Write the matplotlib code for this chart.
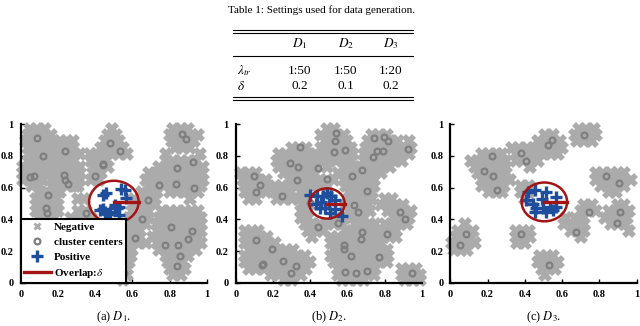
import matplotlib.pyplot as plt
from matplotlib.patches import Ellipse
from matplotlib.lines import Line2D

plt.rcParams["font.family"] = "Liberation Serif"
plt.rcParams["mathtext.fontset"] = "stix"

# ---- table data ----
table_cols = ["$D_1$", "$D_2$", "$D_3$"]
table_rows = ["$\\lambda_{tr}$", "$\\delta$"]
lambda_tr = ["1:50", "1:50", "1:20"]
delta = ["0.2", "0.1", "0.2"]

# ---- panel (a) D1 ----
centers1 = [(0.09, 0.91), (0.12, 0.80), (0.24, 0.83), (0.05, 0.665), (0.07, 0.67),
            (0.23, 0.68), (0.24, 0.645), (0.255, 0.62), (0.145, 0.555), (0.135, 0.47),
            (0.14, 0.44), (0.32, 0.38), (0.335, 0.38), (0.35, 0.44), (0.40, 0.67),
            (0.444, 0.75), (0.444, 0.74), (0.48, 0.88), (0.534, 0.828), (0.866, 0.935),
            (0.889, 0.905), (0.839, 0.726), (0.925, 0.758), (0.745, 0.618), (0.833, 0.622),
            (0.928, 0.60), (0.683, 0.525), (0.65, 0.405), (0.615, 0.285), (0.557, 0.065),
            (0.806, 0.352), (0.922, 0.328), (0.90, 0.276), (0.772, 0.238), (0.847, 0.238),
            (0.856, 0.172), (0.838, 0.104)]
pos1 = [(0.459, 0.566), (0.444, 0.552), (0.538, 0.594), (0.561, 0.583), (0.566, 0.537),
        (0.427, 0.457), (0.444, 0.463), (0.471, 0.436), (0.48, 0.446), (0.507, 0.488),
        (0.53, 0.478), (0.525, 0.425), (0.455, 0.445), (0.515, 0.47)]
neg1_rows = [
    (0.97, [0.05, 0.09, 0.13, 0.49, 0.82, 0.86, 0.90]),
    (0.93, [0.04, 0.08, 0.12, 0.16, 0.47, 0.51, 0.80, 0.84, 0.88, 0.92, 0.95]),
    (0.89, [0.03, 0.07, 0.11, 0.15, 0.18, 0.21, 0.25, 0.28, 0.45, 0.49, 0.53, 0.81, 0.85, 0.89, 0.93]),
    (0.85, [0.04, 0.08, 0.12, 0.16, 0.20, 0.24, 0.28, 0.43, 0.47, 0.51, 0.55, 0.83, 0.87, 0.91]),
    (0.81, [0.05, 0.09, 0.13, 0.17, 0.21, 0.25, 0.29, 0.32, 0.37, 0.41, 0.45, 0.49, 0.53, 0.57, 0.78, 0.96]),
    (0.77, [0.04, 0.08, 0.12, 0.16, 0.20, 0.24, 0.28, 0.38, 0.42, 0.46, 0.78, 0.82, 0.86, 0.90, 0.94]),
    (0.73, [0.01, 0.05, 0.09, 0.13, 0.17, 0.21, 0.25, 0.29, 0.32, 0.39, 0.43, 0.47, 0.74, 0.78, 0.82, 0.86,
            0.90, 0.94, 0.98]),
    (0.69, [0.01, 0.04, 0.08, 0.12, 0.16, 0.20, 0.24, 0.28, 0.32, 0.39, 0.43, 0.69, 0.73, 0.77, 0.81, 0.85,
            0.89, 0.93, 0.97]),
    (0.65, [0.01, 0.05, 0.09, 0.12, 0.17, 0.21, 0.25, 0.29, 0.32, 0.38, 0.42, 0.67, 0.71, 0.75, 0.79, 0.83,
            0.87, 0.91, 0.95, 0.98]),
    (0.61, [0.06, 0.10, 0.17, 0.21, 0.25, 0.29, 0.31, 0.69, 0.73, 0.77, 0.81, 0.85, 0.89, 0.93, 0.97]),
    (0.57, [0.10, 0.14, 0.18, 0.21, 0.65, 0.69, 0.73, 0.80, 0.84, 0.88, 0.92, 0.95]),
    (0.53, [0.08, 0.12, 0.16, 0.19, 0.31, 0.34, 0.61, 0.65, 0.69, 0.72, 0.91]),
    (0.49, [0.09, 0.13, 0.17, 0.20, 0.61, 0.65, 0.69, 0.72]),
    (0.45, [0.08, 0.12, 0.16, 0.20, 0.31, 0.35, 0.60, 0.64, 0.68, 0.76, 0.80, 0.84, 0.88, 0.92, 0.95]),
    (0.41, [0.10, 0.14, 0.18, 0.27, 0.31, 0.35, 0.38, 0.58, 0.62, 0.66, 0.69, 0.74, 0.78, 0.82, 0.86, 0.90,
            0.94, 0.97]),
    (0.37, [0.27, 0.31, 0.35, 0.56, 0.60, 0.64, 0.67, 0.73, 0.77, 0.81, 0.85, 0.89, 0.93, 0.97]),
    (0.33, [0.56, 0.60, 0.64, 0.73, 0.77, 0.81, 0.85, 0.89, 0.93, 0.97]),
    (0.29, [0.56, 0.60, 0.64, 0.71, 0.75, 0.79, 0.83, 0.87, 0.91, 0.95]),
    (0.25, [0.55, 0.59, 0.63, 0.67, 0.73, 0.77, 0.81, 0.85, 0.89, 0.93, 0.97]),
    (0.21, [0.56, 0.60, 0.74, 0.78, 0.82, 0.86, 0.90, 0.94]),
    (0.17, [0.56, 0.59, 0.78, 0.82, 0.86, 0.90]),
    (0.13, [0.54, 0.58, 0.79, 0.83, 0.87]),
    (0.09, [0.53, 0.57, 0.80, 0.84, 0.88]),
    (0.05, [0.53, 0.57, 0.82, 0.86]),
    (0.02, [0.55]),
]
circle1 = (0.50, 0.51, 0.133)

# ---- panel (b) D2 ----
centers2 = [(0.5375, 0.942), (0.534, 0.89), (0.527, 0.821), (0.586, 0.8375), (0.345, 0.858),
            (0.291, 0.754), (0.336, 0.729), (0.443, 0.723), (0.33, 0.65), (0.4875, 0.656),
            (0.10, 0.675), (0.13, 0.619), (0.107, 0.571), (0.246, 0.546), (0.398, 0.504),
            (0.441, 0.354), (0.55, 0.379), (0.625, 0.671), (0.68, 0.708), (0.705, 0.581),
            (0.634, 0.4875), (0.654, 0.446), (0.741, 0.91), (0.761, 0.831), (0.791, 0.831),
            (0.818, 0.894), (0.795, 0.92), (0.923, 0.844), (0.7375, 0.79), (0.884, 0.446),
            (0.907, 0.40), (0.814, 0.31), (0.68, 0.321), (0.671, 0.275), (0.582, 0.2375),
            (0.582, 0.2125), (0.621, 0.171), (0.77, 0.165), (0.5875, 0.067), (0.648, 0.06),
            (0.705, 0.077), (0.109, 0.269), (0.193, 0.2125), (0.139, 0.1125), (0.148, 0.119),
            (0.252, 0.14), (0.323, 0.108), (0.298, 0.06), (0.945, 0.06)]
pos2 = [(0.398, 0.556), (0.573, 0.42), (0.434, 0.546), (0.47, 0.546), (0.514, 0.546),
        (0.532, 0.525), (0.452, 0.473), (0.479, 0.473), (0.505, 0.442), (0.43, 0.494),
        (0.532, 0.4625), (0.4875, 0.567), (0.46, 0.51), (0.50, 0.50)]
neg2_rows = [
    (0.97, [0.49, 0.53]),
    (0.93, [0.46, 0.50, 0.54, 0.58, 0.73, 0.77, 0.81]),
    (0.89, [0.48, 0.52, 0.56, 0.60, 0.71, 0.75, 0.79, 0.83, 0.87, 0.93]),
    (0.85, [0.30, 0.34, 0.38, 0.46, 0.50, 0.54, 0.58, 0.62, 0.70, 0.74, 0.78, 0.82, 0.86, 0.90, 0.94]),
    (0.81, [0.23, 0.27, 0.31, 0.35, 0.39, 0.43, 0.47, 0.51, 0.55, 0.59, 0.63, 0.69, 0.73, 0.77, 0.81, 0.85,
            0.89, 0.93]),
    (0.77, [0.22, 0.26, 0.30, 0.34, 0.38, 0.42, 0.46, 0.50, 0.54, 0.58, 0.62, 0.69, 0.73, 0.77, 0.81, 0.85,
            0.89]),
    (0.73, [0.23, 0.27, 0.31, 0.35, 0.39, 0.43, 0.49, 0.59, 0.63, 0.67, 0.71, 0.75, 0.79, 0.83]),
    (0.69, [0.03, 0.07, 0.11, 0.26, 0.30, 0.34, 0.38, 0.42, 0.55, 0.59, 0.63, 0.67, 0.71, 0.75, 0.78]),
    (0.65, [0.04, 0.08, 0.12, 0.16, 0.29, 0.33, 0.37, 0.41, 0.45, 0.49, 0.53, 0.58, 0.62, 0.66, 0.70, 0.74]),
    (0.61, [0.05, 0.09, 0.13, 0.17, 0.21, 0.25, 0.29, 0.33, 0.37, 0.41, 0.45, 0.49, 0.59, 0.63, 0.67, 0.71,
            0.74]),
    (0.57, [0.05, 0.09, 0.13, 0.16, 0.21, 0.25, 0.29, 0.35, 0.39, 0.61, 0.65, 0.69, 0.73]),
    (0.53, [0.07, 0.11, 0.22, 0.26, 0.30, 0.34, 0.37, 0.61, 0.65, 0.69, 0.73, 0.80, 0.84]),
    (0.49, [0.36, 0.39, 0.59, 0.63, 0.67, 0.71, 0.78, 0.82, 0.86, 0.90]),
    (0.45, [0.35, 0.39, 0.61, 0.65, 0.69, 0.72, 0.82, 0.86, 0.90, 0.94]),
    (0.41, [0.35, 0.39, 0.54, 0.58, 0.62, 0.66, 0.69, 0.85, 0.89, 0.93]),
    (0.37, [0.37, 0.41, 0.45, 0.49, 0.53, 0.57, 0.64, 0.68, 0.72, 0.75, 0.80, 0.84, 0.88, 0.92]),
    (0.33, [0.05, 0.09, 0.12, 0.39, 0.43, 0.47, 0.59, 0.63, 0.67, 0.71, 0.75, 0.79, 0.83, 0.86]),
    (0.29, [0.05, 0.09, 0.13, 0.17, 0.41, 0.51, 0.55, 0.59, 0.63, 0.67, 0.71, 0.75, 0.79, 0.83, 0.86]),
    (0.25, [0.05, 0.09, 0.13, 0.17, 0.21, 0.51, 0.55, 0.59, 0.63, 0.67, 0.71, 0.75, 0.78]),
    (0.21, [0.07, 0.11, 0.15, 0.19, 0.23, 0.27, 0.31, 0.53, 0.57, 0.61, 0.65, 0.69, 0.73, 0.77, 0.81]),
    (0.17, [0.05, 0.09, 0.13, 0.17, 0.21, 0.25, 0.29, 0.33, 0.37, 0.51, 0.55, 0.59, 0.63, 0.67, 0.71, 0.75,
            0.79, 0.82]),
    (0.13, [0.05, 0.09, 0.13, 0.17, 0.21, 0.25, 0.29, 0.33, 0.37, 0.40, 0.53, 0.57, 0.61, 0.65, 0.69, 0.73,
            0.77, 0.81]),
    (0.09, [0.07, 0.11, 0.15, 0.19, 0.23, 0.27, 0.31, 0.35, 0.38, 0.55, 0.59, 0.63, 0.67, 0.71, 0.75, 0.89,
            0.93, 0.97]),
    (0.05, [0.19, 0.23, 0.27, 0.31, 0.35, 0.55, 0.59, 0.63, 0.67, 0.71, 0.74, 0.89, 0.93, 0.97, 0.99]),
    (0.02, [0.26, 0.30, 0.57, 0.61, 0.65, 0.69, 0.91, 0.95, 0.99]),
]
circle2 = (0.49, 0.50, 0.095)

# ---- panel (c) D3 ----
centers3 = [(0.225, 0.798), (0.182, 0.704), (0.227, 0.673), (0.248, 0.583), (0.377, 0.817),
            (0.409, 0.767), (0.525, 0.871), (0.548, 0.90), (0.716, 0.933), (0.8375, 0.671),
            (0.904, 0.629), (0.745, 0.444), (0.677, 0.323), (0.909, 0.444), (0.895, 0.379),
            (0.382, 0.308), (0.084, 0.308), (0.052, 0.24), (0.53, 0.115)]
pos3 = [(0.418, 0.573), (0.454, 0.583), (0.516, 0.573), (0.57, 0.542), (0.445, 0.50),
        (0.4625, 0.469), (0.498, 0.469), (0.534, 0.479), (0.57, 0.479), (0.516, 0.448),
        (0.552, 0.458), (0.454, 0.448), (0.409, 0.521), (0.49, 0.531)]
neg3_rows = [
    (0.97, [0.69, 0.73, 0.77]),
    (0.93, [0.51, 0.55, 0.67, 0.71, 0.75, 0.78]),
    (0.89, [0.47, 0.51, 0.55, 0.59, 0.68, 0.72, 0.76]),
    (0.85, [0.33, 0.37, 0.41, 0.45, 0.48, 0.52, 0.56, 0.60]),
    (0.81, [0.17, 0.21, 0.25, 0.28, 0.35, 0.39, 0.43, 0.46, 0.50, 0.54, 0.58]),
    (0.77, [0.11, 0.15, 0.19, 0.23, 0.27, 0.30, 0.35, 0.39, 0.43, 0.47]),
    (0.73, [0.13, 0.17, 0.21, 0.25, 0.29, 0.43]),
    (0.69, [0.15, 0.19, 0.23, 0.27, 0.30, 0.78, 0.82, 0.86, 0.90, 0.93]),
    (0.65, [0.17, 0.21, 0.25, 0.29, 0.32, 0.78, 0.82, 0.86, 0.90, 0.94, 0.97]),
    (0.61, [0.17, 0.21, 0.25, 0.29, 0.38, 0.42, 0.81, 0.85, 0.89, 0.93]),
    (0.57, [0.21, 0.25, 0.28, 0.38, 0.42, 0.85, 0.89]),
    (0.53, [0.40]),
    (0.49, [0.72, 0.76, 0.90, 0.93]),
    (0.45, [0.70, 0.74, 0.78, 0.85, 0.89, 0.93, 0.96]),
    (0.41, [0.62, 0.67, 0.71, 0.83, 0.87, 0.91, 0.95]),
    (0.37, [0.08, 0.61, 0.65, 0.69, 0.72, 0.86, 0.90, 0.94]),
    (0.33, [0.04, 0.08, 0.12, 0.35, 0.39, 0.42, 0.65, 0.69, 0.72, 0.96]),
    (0.29, [0.03, 0.07, 0.11, 0.35, 0.39, 0.43, 0.70]),
    (0.25, [0.01, 0.05, 0.09, 0.13, 0.36, 0.40]),
    (0.21, [0.02, 0.06, 0.09]),
    (0.17, [0.48, 0.52, 0.55]),
    (0.13, [0.47, 0.51, 0.55, 0.58]),
    (0.09, [0.49, 0.53, 0.56]),
    (0.05, [0.51]),
]
circle3 = (0.505, 0.51, 0.122)

NEG = "#ababab"
CEN = "#7f7f7f"
POS = "#1f4e9c"
RED = "#a31515"

W, H = 640, 326
fig = plt.figure(figsize=(6.4, 3.26), dpi=100)


def fx(px):
    return px / W


def fy(py):
    return 1 - py / H


# ---- table ----
fig.text(fx(322), fy(10), "Table 1: Settings used for data generation.", ha="center", va="center",
         fontsize=8)
for py in [30, 33, 56, 97, 100]:
    fig.add_artist(Line2D([fx(233), fx(413)], [fy(py), fy(py)], color="black", lw=0.8))
col_x = [300, 346, 391]
for cx, name in zip(col_x, table_cols):
    fig.text(fx(cx), fy(44), name, ha="center", va="center", fontsize=9.5)
for py, label, vals in [(71, table_rows[0], lambda_tr), (86, table_rows[1], delta)]:
    fig.text(fx(237), fy(py), label, ha="left", va="center", fontsize=9.5)
    for cx, v in zip(col_x, vals):
        fig.text(fx(cx), fy(py), v, ha="center", va="center", fontsize=9.5)


def draw_panel(ax, neg_rows, centers, pos, circle, show_legend=False):
    nx = [x for y, xs in neg_rows for x in xs]
    ny = [y for y, xs in neg_rows for x in xs]
    ax.plot(nx, ny, "x", color=NEG, ms=7, mew=4, ls="none", clip_on=False, label="Negative")
    ax.plot([c[0] for c in centers], [c[1] for c in centers], "o", mfc="none", mec=CEN, ms=4.2,
            mew=1.6, ls="none", label="cluster centers")
    ax.plot([p[0] for p in pos], [p[1] for p in pos], "+", color=POS, ms=8.5, mew=2.4, ls="none",
            label="Positive")
    cx, cy, r = circle
    ax.add_patch(Ellipse((cx, cy), 2 * r, 2 * r, fill=False, ec=RED, lw=1.8, zorder=4))
    ax.plot([cx, cx + r], [cy, cy], color=RED, lw=2.4, zorder=4, label="Overlap:$\\delta$")

    ax.set_xlim(0, 1)
    ax.set_ylim(0, 1)
    ticks = [0, 0.2, 0.4, 0.6, 0.8, 1]
    labels = ["0", "0.2", "0.4", "0.6", "0.8", "1"]
    ax.set_xticks(ticks)
    ax.set_yticks(ticks)
    ax.set_xticklabels(labels, fontweight="bold")
    ax.set_yticklabels(labels, fontweight="bold")
    ax.tick_params(direction="in", length=3, width=1, labelsize=7.5, pad=5)
    ax.spines["top"].set_visible(False)
    ax.spines["right"].set_visible(False)
    ax.spines["left"].set_linewidth(1.6)
    ax.spines["bottom"].set_linewidth(1.6)

    if show_legend:
        handles, labels = ax.get_legend_handles_labels()
        handles[0] = Line2D([], [], marker="x", color=NEG, ms=5, mew=2, ls="none")
        leg = ax.legend(handles, labels, loc="lower left", bbox_to_anchor=(0, 0), borderaxespad=0,
                        fancybox=False, framealpha=1, edgecolor="black", handlelength=2.4,
                        handletextpad=0.3, borderpad=0.3, labelspacing=0.45,
                        prop={"family": "Liberation Serif", "weight": "bold", "size": 8})
        leg.get_frame().set_linewidth(1.5)


lefts = [20.7, 235.7, 450.3]
panels = [
    (neg1_rows, centers1, pos1, circle1, True, "(a) $D_1$."),
    (neg2_rows, centers2, pos2, circle2, False, "(b) $D_2$."),
    (neg3_rows, centers3, pos3, circle3, False, "(c) $D_3$."),
]
for left, (neg_rows, centers, pos, circle, show_leg, caption) in zip(lefts, panels):
    ax = fig.add_axes([fx(left), fy(283), fx(186.3), 159 / H])
    draw_panel(ax, neg_rows, centers, pos, circle, show_leg)
    fig.text(fx(left + 93), fy(317), caption, ha="center", va="center", fontsize=9)

fig.savefig("out.png", dpi=100)
